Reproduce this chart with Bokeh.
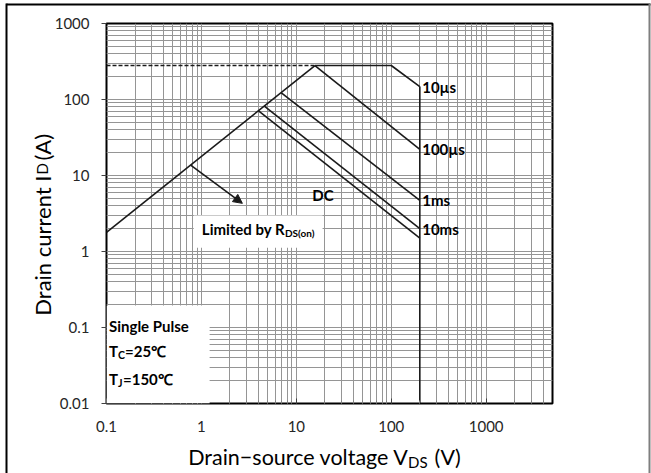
import math
from bokeh.plotting import figure
from bokeh.models import (FixedTicker, CustomJSTickFormatter, Label, BoxAnnotation,
                          Arrow, NormalHead, Range1d, LinearScale)
from bokeh.core.properties import value
from bokeh.embed import file_html
from bokeh.resources import INLINE

# ---------------- data ----------------
x_major = [0.1, 1, 10, 100, 1000]
y_major = [0.01, 0.1, 1, 10, 100, 1000]

# R_DS(on) limit line
rds_v = [0.1, 15.7]
rds_i = [1.78, 280]
# dashed package current limit
lim_v = [0.1, 15.7]
lim_i = [280, 280]
# pulse curves
us10_v = [15.7, 100, 200]
us10_i = [280, 280, 148]
us100_v = [15.7, 200]
us100_i = [280, 22]
ms1_v = [6.9, 200]
ms1_i = [123, 4.7]
ms10_v = [4.6, 200]
ms10_i = [82, 2.0]
dc_v = [4.0, 200]
dc_i = [71, 1.5]
# V_DS(max) vertical line
vmax_v = [200, 200]
vmax_i = [148, 0.01]
# arrow pointing into the R_DS(on) limited region
arrow_v = [0.77, 2.7]
arrow_i = [13.7, 4.3]

curve_labels = ["10µs", "100µs", "1ms", "10ms"]
curve_label_i = [148, 22, 4.7, 2.0]
curve_label_v = 212

FONT = "Lato"
W, H = 651, 473
ML, MR, MT, MB = 106, 99, 23, 70
FW, FH = W - ML - MR, H - MT - MB

# ---------------- figure ----------------
p = figure(width=W, height=H, x_axis_type="log", y_axis_type="log",
           x_range=Range1d(0.1, 5000), y_range=Range1d(0.01, 1000),
           output_backend="svg", toolbar_location=None, title=None,
           min_border_left=ML, min_border_right=MR, min_border_top=MT,
           min_border_bottom=MB)
# pixel helper ranges (for titles and the page frame)
p.extra_x_ranges = {"px": Range1d(0, FW)}
p.extra_y_ranges = {"py": Range1d(0, FH)}
p.extra_x_scales = {"px": LinearScale()}
p.extra_y_scales = {"py": LinearScale()}

p.background_fill_color = "white"
p.border_fill_color = "white"
p.outline_line_color = "black"
p.outline_line_width = 2

x_minor = [m * d for d in x_major for m in range(2, 10) if m * d < 5000]
y_minor = [m * d for d in y_major[:-1] for m in range(2, 10)]
p.xaxis.ticker = FixedTicker(ticks=x_major, minor_ticks=x_minor)
p.yaxis.ticker = FixedTicker(ticks=y_major, minor_ticks=y_minor)
fmt = CustomJSTickFormatter(code="return String(Number(tick.toPrecision(4)));")
p.xaxis.formatter = fmt
p.yaxis.formatter = fmt

for ax in (p.xaxis, p.yaxis):
    ax.axis_line_color = None
    ax.major_label_text_font = FONT
    ax.major_label_text_font_size = "15px"
    ax.major_label_text_color = "#262626"
    ax.major_tick_line_color = "#404040"
    ax.minor_tick_line_color = "#808080"

p.xaxis.major_tick_out = 0
p.xaxis.major_tick_in = 5
p.xaxis.minor_tick_out = 0
p.xaxis.minor_tick_in = 3
p.xaxis.major_label_standoff = 17
p.yaxis.major_tick_out = 5
p.yaxis.major_tick_in = 0
p.yaxis.minor_tick_out = 0
p.yaxis.minor_tick_in = 0
p.yaxis.major_label_standoff = 12

for g in (p.xgrid, p.ygrid):
    g.grid_line_color = "#959595"
    g.grid_line_width = 1
    g.minor_grid_line_color = "#959595"
    g.minor_grid_line_width = 1

# white boxes behind the annotation texts
p.add_layout(BoxAnnotation(left=0.1, right=1.22, bottom=0.01, top=0.195,
                           fill_color="white", fill_alpha=1, line_color=None))
p.add_layout(BoxAnnotation(left=0.83, right=18.9, bottom=1.12, top=2.98,
                           fill_color="white", fill_alpha=1, line_color=None))

LC = "#1a1a1a"
LW = 1.6
p.line(lim_v, lim_i, line_color=LC, line_width=LW, line_dash="4 2")
p.line(rds_v, rds_i, line_color=LC, line_width=LW)
p.line(us10_v, us10_i, line_color=LC, line_width=LW)
p.line(us100_v, us100_i, line_color=LC, line_width=LW)
p.line(ms1_v, ms1_i, line_color=LC, line_width=LW)
p.line(ms10_v, ms10_i, line_color=LC, line_width=LW)
p.line(dc_v, dc_i, line_color=LC, line_width=LW)
p.line(vmax_v, vmax_i, line_color=LC, line_width=LW)

p.add_layout(Arrow(x_start=arrow_v[0], y_start=arrow_i[0], x_end=arrow_v[1], y_end=arrow_i[1],
                   line_color=LC, line_width=LW,
                   end=NormalHead(size=9, fill_color=LC, line_color=LC)))


def lab(text, x, y, units="data", size="15px", style="bold", align="left",
        baseline="middle"):
    p.add_layout(Label(x=x, y=y, x_units=units, y_units=units, text=text,
                       text_font=FONT, text_font_size=size, text_font_style=style,
                       text_align=align, text_baseline=baseline, text_color="black"))


for t, yv in zip(curve_labels, curve_label_i):
    lab(t, curve_label_v, yv)
lab("DC", 19.1, 5.6, align="center")

# "Limited by R_DS(on)"
lab("Limited by R", 7.6, 2.0, align="right")
lab("DS(on)", 7.6, 1.76, align="left", size="10px")

# Single pulse block (screen units relative to the frame)
lab("Single Pulse", 2.5, 78, units="screen")
lab("T", 2.5, 53, units="screen")
lab("C", 11.5, 49, units="screen", size="10.5px")
lab("=25℃", 18.5, 53, units="screen")
lab("T", 2.5, 25, units="screen")
lab("J", 11.5, 21, units="screen", size="10.5px")
lab("=150℃", 16.5, 25, units="screen")


# ---- texts and page frame outside the plot area (pixel ranges, overlay level) ----
def ptext(x, y, t, size, align="left", angle=0.0):
    p.text(x=[x], y=[y], text=[t], text_font=value(FONT), text_font_size=value(size),
           text_align=align, text_baseline="alphabetic", angle=angle,
           text_color="black", x_range_name="px", y_range_name="py", level="overlay")


ptext(302.5, -53.7, "Drain\u2212source voltage V", "21.5px", align="right")
ptext(301.5, -58.5, "DS", "15px")
ptext(328, -53.7, "(V)", "21.5px")

ptext(-64.3, 228, "Drain current I", "22px", align="right", angle=math.pi / 2)
ptext(-64.3, 229, "D", "15px", angle=math.pi / 2)
ptext(-64.3, 243, "(A)", "22px", angle=math.pi / 2)

frame_x0 = [-100, -100, 543]
frame_x1 = [544, -100, 543]
frame_y0 = [399, 400, 400]
frame_y1 = [399, -75, -75]
p.segment(x0=frame_x0, y0=frame_y0, x1=frame_x1, y1=frame_y1,
          line_color=["black", "black", "#7f7f7f"], line_width=2,
          x_range_name="px", y_range_name="py", level="overlay")

open("out.html", "w").write(file_html(p, INLINE))
